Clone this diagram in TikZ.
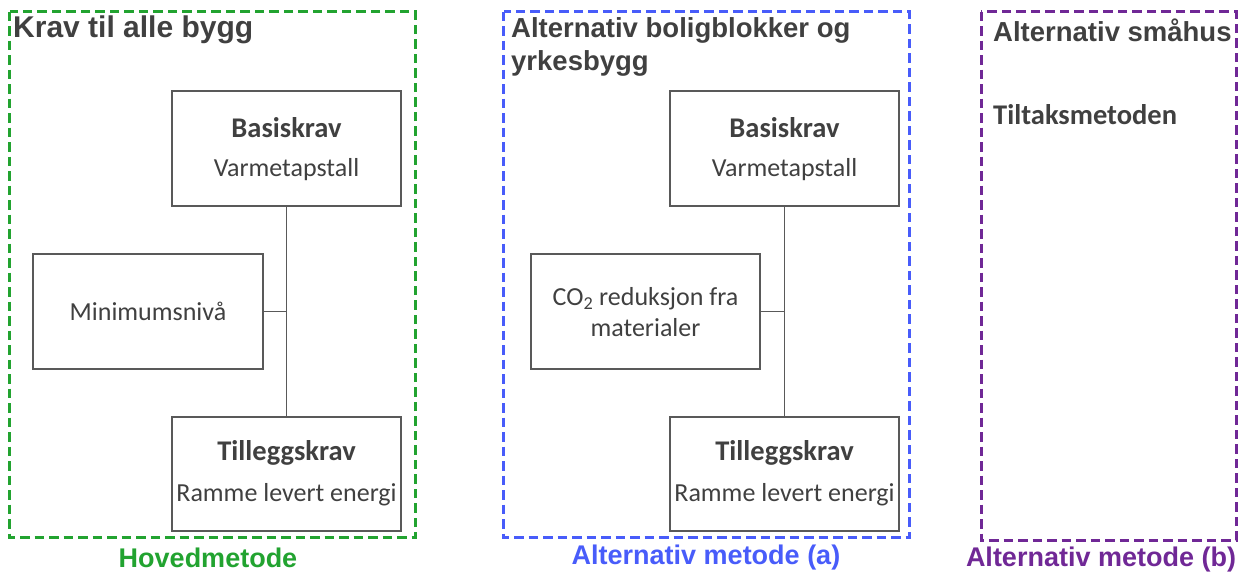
\documentclass[tikz,border=0pt]{standalone}
\usepackage{fontspec}
\setmainfont{Carlito}
\newfontfamily\arialfont{Liberation Sans}
\begin{document}
\begin{tikzpicture}[x=1pt,y=-1pt,
  panel/.style={line width=3pt, dash pattern=on 9.5pt off 5pt},
  reqbox/.style={draw=boxgray, line width=1.6pt, fill=white},
  link/.style={draw=boxgray, line width=1.6pt},
  heading/.style={anchor=west, inner sep=0pt, text=textgray, font=\arialfont\bfseries\fontsize{27.5}{33}\selectfont, align=left},
  caption/.style={inner sep=0pt, font=\arialfont\bfseries\fontsize{27}{32}\selectfont},
  boxtext/.style={inner sep=0pt, text=textgray, font=\fontsize{26}{31}\selectfont},
  boxbold/.style={inner sep=0pt, text=textgray, font=\bfseries\fontsize{28.5}{34}\selectfont}
]
\definecolor{textgray}{RGB}{64,64,64}
\definecolor{boxgray}{RGB}{89,89,89}
\definecolor{hgreen}{RGB}{34,163,48}
\definecolor{ablue}{RGB}{72,92,250}
\definecolor{bpurple}{RGB}{112,40,150}

\useasboundingbox (0,0) rectangle (1241,574);

% --- Hovedmetode ---
\draw[panel, hgreen] (9.5,11.5) rectangle (415.5,537.5);
\node[heading, font=\arialfont\bfseries\fontsize{30}{36}\selectfont] (h1) at (13,30) {Krav til alle bygg};
\node[caption, text=hgreen] (c1) at (208,558) {Hovedmetode};

\node[reqbox, minimum width=229pt, minimum height=115pt] (b1) at (286.5,148.5) {};
\node[boxbold] (b1t) at (286.5,128) {Basiskrav};
\node[boxtext] (b1s) at (286.5,170) {Varmetapstall};

\node[reqbox, minimum width=230pt, minimum height=115pt] (m1) at (148,311.5) {};
\node[boxtext] (m1t) at (148,311) {Minimumsniv\r{a}};

\node[reqbox, minimum width=229pt, minimum height=114pt] (t1) at (286.5,474) {};
\node[boxbold] (t1t) at (286.5,453) {Tilleggskrav};
\node[boxtext] (t1s) at (286.5,495) {Ramme levert energi};

\coordinate (j1) at (b1.south |- m1.east);
\draw[link] (b1.south) -- (t1.north);
\draw[link] (m1.east) -- (j1);

% --- Alternativ metode (a) ---
\draw[panel, ablue] (503.5,11.5) rectangle (909,537.5);
\node[heading] (h2) at (511,46.5) {Alternativ boligblokker og\\yrkesbygg};
\node[caption, text=ablue] (c2) at (706,558) {Alternativ metode (a)};

\node[reqbox, minimum width=229pt, minimum height=115pt] (b2) at (784.5,148.5) {};
\node[boxbold] (b2t) at (784.5,128) {Basiskrav};
\node[boxtext] (b2s) at (784.5,170) {Varmetapstall};

\node[reqbox, minimum width=229pt, minimum height=115pt] (m2) at (645.5,311.5) {};
\node[boxtext, align=center] (m2t) at (645.5,312) {CO\textsubscript{2} reduksjon fra\\materialer};

\node[reqbox, minimum width=229pt, minimum height=114pt] (t2) at (784.5,474) {};
\node[boxbold] (t2t) at (784.5,453) {Tilleggskrav};
\node[boxtext] (t2s) at (784.5,495) {Ramme levert energi};

\coordinate (j2) at (b2.south |- m2.east);
\draw[link] (b2.south) -- (t2.north);
\draw[link] (m2.east) -- (j2);

% --- Alternativ metode (b) ---
\draw[panel, bpurple] (981,11.5) rectangle (1236,540);
\node[heading] (h3) at (993,30) {Alternativ sm\r{a}hus};
\node[caption, text=bpurple] (c3) at (1101,560) {Alternativ metode (b)};
\node[boxbold, anchor=west] (tm) at (993,115) {Tiltaksmetoden};
\end{tikzpicture}
\end{document}
